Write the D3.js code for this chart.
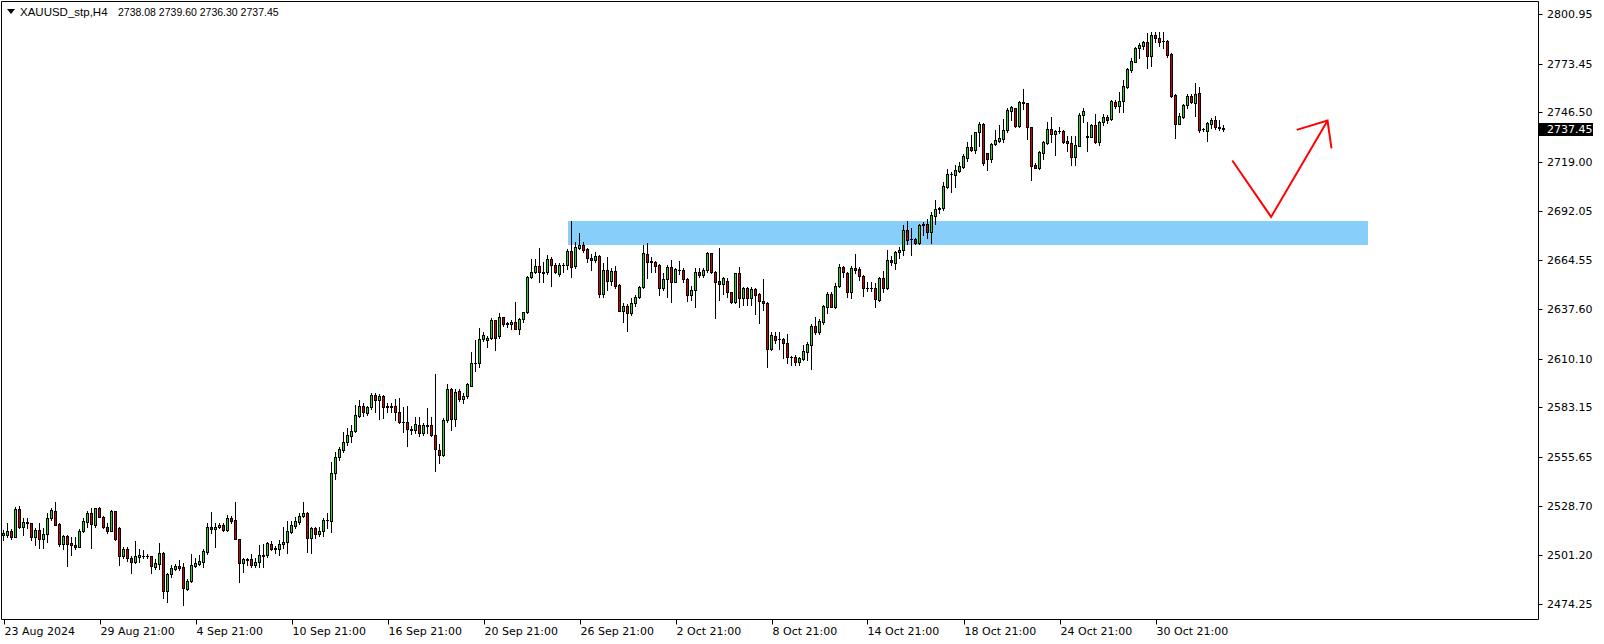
<!DOCTYPE html>
<html><head><meta charset="utf-8">
<script src="https://cdn.jsdelivr.net/npm/d3@7"></script>
<style>body{margin:0;background:#fff}svg{display:block}</style>
</head><body>
<svg id="c" width="1604" height="644"></svg>
<script>
const opens = [
2512.3,2512.3,2514.5,2511.5,2526.9,2517.1,2519.5,2518.9,2511.2,2515.1,
2510.4,2512.8,2521.7,2525.6,2518.6,2507.3,2511.7,2508.0,2506.8,2505.6,
2514.7,2519.7,2524.7,2517.8,2527.2,2522.3,2517.1,2514.9,2525.8,2516.2,
2501.0,2504.7,2499.6,2497.7,2500.5,2501.0,2501.0,2500.8,2494.9,2496.2,
2502.5,2481.6,2490.7,2493.8,2495.1,2494.7,2482.8,2486.8,2495.5,2496.2,
2497.7,2503.1,2516.7,2515.6,2516.7,2518.2,2515.2,2521.9,2520.6,2510.4,
2496.8,2498.4,2499.2,2495.8,2497.7,2501.0,2501.4,2507.3,2505.1,2504.9,
2507.3,2508.4,2514.3,2517.3,2519.8,2522.8,2524.6,2511.0,2516.1,2512.8,
2514.9,2520.8,2520.0,2546.6,2555.5,2559.4,2564.1,2567.5,2570.0,2578.4,
2583.7,2579.8,2583.2,2589.8,2587.2,2589.4,2583.5,2583.7,2583.7,2580.4,
2575.0,2574.8,2571.3,2570.6,2573.2,2568.8,2573.2,2573.2,2567.6,2559.3,
2556.6,2575.9,2593.3,2576.5,2592.2,2587.6,2589.2,2595.2,2607.7,2607.5,
2620.8,2620.3,2621.4,2631.3,2622.8,2633.0,2629.7,2629.5,2630.4,2626.4,
2631.9,2635.8,2655.3,2657.9,2661.6,2657.9,2657.9,2665.3,2662.0,2657.2,
2662.0,2662.0,2669.7,2661.6,2671.6,2673.0,2670.8,2665.8,2664.6,2667.0,
2646.1,2659.2,2653.3,2658.5,2650.9,2636.7,2639.4,2635.2,2640.7,2644.2,
2649.6,2667.9,2664.2,2663.4,2662.0,2649.1,2654.0,2660.9,2652.7,2659.0,
2659.0,2654.0,2645.4,2648.1,2657.9,2656.4,2659.0,2668.4,2658.3,2653.1,
2651.3,2653.0,2646.8,2641.7,2657.4,2643.5,2649.0,2643.5,2648.5,2645.7,
2642.2,2640.7,2615.6,2622.7,2620.8,2620.8,2619.0,2610.8,2610.8,2608.1,
2609.9,2614.0,2617.9,2628.0,2624.7,2630.2,2638.9,2645.9,2638.9,2650.2,
2660.7,2657.5,2646.8,2660.1,2659.6,2656.1,2649.4,2649.2,2649.4,2642.8,
2654.6,2649.4,2664.7,2662.9,2669.0,2670.1,2681.2,2676.2,2676.2,2674.0,
2684.1,2684.5,2680.1,2689.3,2693.0,2693.3,2705.3,2712.4,2711.8,2714.2,
2716.4,2721.0,2727.5,2725.6,2735.4,2740.2,2723.8,2720.5,2729.0,2730.4,
2731.9,2736.7,2747.4,2748.9,2739.1,2752.2,2751.7,2738.2,2717.3,2715.7,
2724.2,2729.7,2737.1,2734.3,2736.0,2736.3,2730.6,2729.3,2721.9,2728.0,
2744.8,2733.6,2733.0,2739.5,2729.9,2741.3,2744.1,2742.6,2752.4,2750.2,
2752.8,2760.7,2770.1,2774.6,2781.9,2783.4,2785.3,2777.9,2789.3,2787.8,
2786.0,2786.0,2778.6,2756.1,2740.2,2744.1,2750.6,2755.7,2751.7,2757.0,
2737.1,2736.2,2740.0,2742.2,2738.5,2738.08];
const highs = [
2515.2,2518.9,2516.0,2527.8,2528.7,2521.7,2521.7,2519.3,2516.2,2518.9,
2516.2,2524.8,2527.2,2530.6,2518.9,2512.5,2512.5,2511.5,2511.5,2515.6,
2521.7,2525.9,2527.2,2527.2,2528.2,2523.0,2518.9,2526.3,2525.9,2517.1,
2506.0,2506.0,2500.8,2509.2,2504.5,2504.2,2501.8,2500.8,2499.0,2508.2,
2503.2,2491.2,2495.9,2496.4,2498.6,2497.2,2487.9,2502.0,2499.6,2501.4,
2504.5,2518.9,2525.0,2518.9,2518.9,2519.3,2523.5,2523.0,2530.6,2510.4,
2499.6,2499.9,2501.7,2499.5,2506.9,2507.3,2508.4,2509.1,2506.2,2509.5,
2517.1,2520.2,2520.2,2522.6,2524.5,2530.5,2525.4,2517.1,2517.1,2517.1,
2521.7,2524.5,2552.7,2558.6,2561.4,2569.7,2571.5,2573.4,2584.5,2587.2,
2585.4,2583.9,2591.3,2590.9,2590.4,2590.0,2585.4,2585.7,2587.6,2588.1,
2583.2,2583.9,2572.8,2578.0,2578.0,2574.3,2582.6,2577.6,2601.6,2562.8,
2577.1,2596.1,2593.7,2593.1,2593.1,2590.9,2596.8,2614.0,2620.4,2626.9,
2624.9,2622.8,2632.4,2631.5,2635.6,2633.4,2630.2,2631.5,2641.3,2632.8,
2636.1,2656.1,2665.3,2665.3,2671.2,2663.8,2667.5,2666.6,2663.3,2663.3,
2662.9,2670.8,2686.3,2674.5,2679.5,2674.9,2671.6,2667.9,2669.4,2667.5,
2663.0,2666.6,2660.1,2661.6,2651.3,2640.7,2640.2,2643.5,2645.4,2650.5,
2673.0,2674.0,2666.6,2664.2,2662.3,2657.4,2662.0,2664.7,2660.1,2664.2,
2660.1,2654.9,2650.5,2660.1,2660.5,2660.5,2669.4,2668.4,2658.6,2671.2,
2655.5,2654.6,2647.2,2657.7,2660.7,2649.6,2649.6,2650.0,2649.4,2646.6,
2654.0,2641.5,2624.9,2625.0,2625.0,2621.4,2623.8,2611.6,2612.0,2611.2,
2617.7,2619.5,2629.3,2633.4,2631.9,2639.8,2647.2,2647.2,2651.8,2662.3,
2661.4,2658.0,2661.6,2667.9,2661.0,2656.4,2652.4,2652.4,2651.8,2655.5,
2658.6,2670.1,2667.1,2669.7,2672.1,2684.1,2686.3,2682.3,2676.7,2684.5,
2686.0,2687.3,2691.1,2697.9,2694.3,2708.1,2715.1,2713.7,2717.3,2718.8,
2723.6,2730.2,2733.9,2735.8,2741.3,2740.4,2724.2,2729.3,2736.7,2739.5,
2742.6,2748.7,2750.0,2749.1,2753.0,2759.2,2751.7,2738.6,2718.2,2724.9,
2730.8,2741.3,2744.1,2736.7,2738.6,2736.7,2733.4,2733.4,2733.4,2746.3,
2748.7,2741.3,2739.8,2745.4,2741.7,2745.4,2745.0,2753.3,2753.3,2757.9,
2764.4,2770.9,2776.4,2782.9,2784.7,2786.0,2790.2,2790.8,2791.2,2790.8,
2791.2,2786.6,2779.2,2756.5,2746.0,2750.9,2756.5,2756.5,2762.6,2760.7,
2738.0,2741.3,2743.5,2744.5,2742.5,2739.60];
const lows = [
2509.7,2511.2,2510.1,2511.5,2516.2,2512.5,2516.2,2509.7,2506.9,2505.1,
2505.1,2508.8,2520.8,2518.2,2506.4,2504.5,2495.3,2501.4,2504.5,2505.6,
2514.3,2517.1,2505.1,2517.1,2522.3,2516.2,2513.4,2514.9,2509.7,2495.9,
2499.6,2498.3,2491.6,2497.2,2497.7,2499.6,2499.9,2491.2,2493.8,2493.8,
2477.4,2475.2,2489.0,2493.1,2493.1,2473.5,2482.0,2486.4,2494.6,2495.9,
2494.6,2502.0,2513.4,2505.6,2516.2,2514.9,2514.7,2518.9,2510.4,2486.6,
2492.2,2495.8,2494.9,2494.9,2494.9,2494.9,2500.5,2504.2,2502.3,2501.4,
2505.1,2502.3,2513.4,2516.1,2518.7,2522.6,2503.2,2502.3,2511.0,2512.1,
2512.1,2516.1,2514.3,2543.3,2554.0,2558.6,2562.3,2564.1,2569.7,2577.8,
2578.5,2578.9,2582.4,2580.8,2576.7,2577.4,2580.8,2580.4,2576.1,2574.3,
2569.7,2561.9,2568.2,2568.8,2567.3,2567.8,2568.8,2567.3,2548.1,2552.1,
2556.2,2575.2,2570.6,2572.8,2586.8,2585.7,2588.5,2595.0,2603.5,2605.7,
2620.1,2616.7,2621.0,2614.9,2621.4,2628.4,2627.8,2626.5,2626.4,2623.8,
2630.2,2635.2,2654.6,2657.4,2652.7,2652.7,2656.8,2650.5,2657.4,2656.1,
2658.3,2659.8,2655.5,2660.5,2670.8,2669.4,2663.8,2659.2,2663.8,2644.4,
2644.4,2648.1,2650.9,2649.1,2636.5,2630.2,2625.4,2634.3,2639.4,2643.5,
2649.1,2654.6,2658.3,2658.3,2645.4,2648.1,2644.4,2641.7,2652.4,2656.8,
2652.7,2642.0,2642.6,2638.9,2655.5,2655.3,2658.3,2657.4,2632.8,2642.6,
2645.7,2644.4,2640.7,2641.1,2638.9,2639.8,2639.8,2639.8,2634.7,2629.7,
2637.0,2605.7,2614.9,2618.6,2615.6,2610.3,2607.5,2606.6,2606.6,2606.6,
2609.4,2609.4,2604.2,2623.8,2623.8,2629.3,2635.6,2638.5,2638.0,2649.6,
2655.5,2644.4,2643.9,2657.7,2653.7,2645.0,2647.6,2647.6,2638.9,2642.2,
2646.8,2648.7,2662.0,2659.7,2666.0,2667.5,2673.4,2667.5,2673.4,2673.8,
2678.6,2677.1,2674.0,2684.9,2690.6,2692.4,2704.4,2702.6,2705.3,2713.7,
2715.9,2719.6,2725.3,2724.2,2727.9,2717.3,2714.6,2719.2,2728.4,2730.1,
2730.2,2735.8,2742.3,2738.6,2738.6,2748.2,2731.5,2709.0,2715.5,2715.1,
2720.5,2729.0,2730.2,2722.9,2734.9,2729.7,2725.3,2717.3,2717.3,2727.9,
2741.2,2725.3,2733.0,2729.3,2728.4,2739.5,2740.4,2742.2,2749.1,2746.9,
2746.9,2760.2,2769.0,2774.2,2776.4,2781.6,2771.2,2772.3,2785.3,2783.4,
2782.3,2777.3,2755.2,2732.1,2739.8,2743.5,2748.7,2751.5,2744.6,2735.8,
2736.2,2730.6,2738.0,2737.0,2736.8,2736.30];
const closes = [
2513.8,2514.7,2511.5,2526.9,2517.1,2519.5,2519.3,2511.2,2515.1,2510.4,
2512.8,2521.7,2526.1,2518.2,2507.3,2511.7,2507.7,2506.8,2506.0,2514.7,
2520.0,2524.5,2518.4,2527.2,2522.3,2517.1,2514.9,2525.6,2510.4,2501.0,
2504.5,2499.6,2497.7,2500.7,2501.2,2501.0,2500.8,2495.1,2496.8,2502.5,
2481.3,2490.7,2494.0,2495.3,2494.2,2482.9,2487.0,2495.7,2497.0,2498.1,
2503.6,2516.7,2516.0,2516.7,2518.2,2515.1,2521.9,2520.4,2510.4,2496.8,
2499.0,2499.2,2495.8,2497.7,2501.2,2501.6,2507.9,2504.7,2504.9,2507.3,
2508.4,2514.7,2518.0,2520.2,2522.8,2524.6,2511.0,2516.1,2512.8,2514.7,
2520.8,2520.6,2546.6,2555.5,2559.9,2564.1,2567.8,2570.0,2578.7,2583.7,
2580.4,2583.2,2589.8,2587.2,2589.2,2583.5,2583.7,2583.5,2580.4,2575.0,
2575.2,2571.0,2570.6,2573.7,2568.8,2573.2,2573.0,2567.6,2560.3,2556.6,
2575.9,2593.3,2576.5,2591.6,2587.6,2589.2,2596.1,2607.7,2607.5,2621.0,
2623.0,2621.7,2631.3,2621.4,2633.0,2629.1,2629.1,2630.6,2626.4,2631.9,
2635.8,2655.3,2657.9,2661.6,2657.9,2657.7,2665.3,2661.8,2657.9,2662.0,
2662.2,2669.7,2661.0,2671.9,2673.0,2670.5,2665.7,2664.6,2667.0,2646.1,
2659.0,2653.3,2658.5,2650.5,2636.7,2639.3,2635.2,2640.7,2644.2,2650.0,
2668.4,2663.4,2663.4,2661.6,2649.1,2654.4,2660.9,2652.7,2659.7,2659.0,
2654.0,2645.4,2648.1,2657.9,2656.4,2659.4,2668.4,2658.3,2652.7,2651.3,
2654.6,2647.2,2641.3,2657.4,2643.5,2649.0,2643.5,2648.5,2645.5,2642.2,
2640.7,2615.6,2623.0,2620.4,2620.8,2619.0,2610.8,2610.8,2608.4,2610.3,
2614.5,2618.2,2628.0,2624.7,2630.8,2639.1,2645.9,2638.9,2650.2,2660.7,
2657.9,2646.8,2660.1,2659.2,2656.1,2649.4,2649.4,2649.0,2643.0,2654.6,
2649.4,2664.7,2663.4,2669.0,2670.3,2681.2,2676.0,2676.2,2674.1,2684.1,
2684.5,2680.4,2689.6,2693.0,2693.3,2705.7,2712.4,2712.2,2714.6,2717.0,
2722.1,2727.5,2725.6,2735.4,2740.2,2718.2,2720.5,2729.0,2731.2,2732.3,
2736.7,2747.8,2749.3,2739.1,2752.2,2751.5,2738.2,2717.0,2715.7,2724.5,
2730.2,2737.1,2734.5,2736.0,2736.3,2730.2,2729.3,2721.9,2728.4,2745.0,
2747.1,2733.0,2739.5,2729.9,2741.3,2744.1,2742.2,2752.8,2750.2,2753.0,
2761.1,2770.5,2774.9,2782.3,2783.8,2785.3,2777.9,2789.3,2787.5,2785.3,
2786.0,2778.2,2755.7,2740.2,2744.6,2750.6,2755.7,2752.0,2756.8,2736.7,
2737.1,2740.4,2742.2,2738.5,2738.1,2737.45];

const dateLabels = ["23 Aug 2024","29 Aug 21:00","4 Sep 21:00","10 Sep 21:00","16 Sep 21:00","20 Sep 21:00","26 Sep 21:00","2 Oct 21:00","8 Oct 21:00","14 Oct 21:00","18 Oct 21:00","24 Oct 21:00","30 Oct 21:00"];
const dateBars = [0,24,48,72,96,120,144,168,192,216,240,264,288];
const priceLabels = ["2800.95","2773.45","2746.50","2719.00","2692.05","2664.55","2637.60","2610.10","2583.15","2555.65","2528.70","2501.20","2474.25"];
const symbolTitle = "XAUUSD_stp,H4";
const lastPrice = "2737.45";
const zoneBars = [141.0, 340.9];
const zonePrices = [2673.0, 2686.3];
const arrowBars = [307.2, 316.9, 331.0];
const arrowPrices = [2719.8, 2688.6, 2741.9];
const headBars = [323.3, 331.0, 332.0];
const headPrices = [2736.8, 2741.9, 2726.6];

const W = 1604, H = 644;
const svg = d3.select("#c");
svg.append("rect").attr("width", W).attr("height", H).attr("fill", "#fff");

const x = d3.scaleLinear().domain([0, 305]).range([3.5, 1223.5]);
const y = d3.scaleLinear().domain([2474.25, 2800.95]).range([604, 14]);
const axisX = 1538.5, axisY = 619.5;

// zone
svg.append("rect")
  .attr("x", Math.round(x(zoneBars[0]))).attr("y", Math.round(y(zonePrices[1])))
  .attr("width", Math.round(x(zoneBars[1]) - x(zoneBars[0])))
  .attr("height", Math.round(y(zonePrices[0]) - y(zonePrices[1])))
  .attr("fill", "#87cefa");

// candles
const bars = d3.range(opens.length).map(i => ({i, o: opens[i], h: highs[i], l: lows[i], c: closes[i]}));
const g = svg.append("g");
bars.forEach(d => {
  const cx = x(d.i);
  const yh = Math.round(y(d.h)), yl = Math.round(y(d.l));
  g.append("line").attr("x1", cx).attr("x2", cx).attr("y1", yh).attr("y2", yl + 1)
    .attr("stroke", "#000").attr("stroke-width", 1);
  const yo = Math.round(y(d.o)), yc = Math.round(y(d.c));
  const top = Math.min(yo, yc), bot = Math.max(yo, yc);
  if (bot - top < 1) {
    g.append("line").attr("x1", cx - 1.5).attr("x2", cx + 1.5).attr("y1", top + 0.5).attr("y2", top + 0.5)
      .attr("stroke", "#000").attr("stroke-width", 1);
  } else {
    g.append("rect").attr("x", cx - 1).attr("y", top + 0.5).attr("width", 2).attr("height", bot - top)
      .attr("fill", d.c >= d.o ? "#1fd51f" : "#d40000").attr("stroke", "#000").attr("stroke-width", 1);
  }
});

// arrow
const line = d3.line().x(p => x(p[0])).y(p => y(p[1]));
svg.append("path").attr("d", line(arrowBars.map((b, k) => [b, arrowPrices[k]])))
  .attr("fill", "none").attr("stroke", "#ff0000").attr("stroke-width", 2);
svg.append("path").attr("d", line(headBars.map((b, k) => [b, headPrices[k]])))
  .attr("fill", "none").attr("stroke", "#ff0000").attr("stroke-width", 2);

// frame
svg.append("path").attr("d", `M1.5,1.5H${axisX}V${axisY}H1.5Z`).attr("fill", "none").attr("stroke", "#000");

// price axis
const font = "DejaVu Sans, Verdana, sans-serif";
priceLabels.forEach(t => {
  const yy = Math.round(y(+t)) + 0.5;
  svg.append("line").attr("x1", axisX).attr("x2", axisX + 4).attr("y1", yy).attr("y2", yy).attr("stroke", "#000");
  svg.append("text").attr("x", 1547).attr("y", yy).attr("dy", "0.35em").text(t)
    .attr("font-family", font).attr("font-size", 11).attr("fill", "#000");
});
// last price label
const ly = Math.round(y(+lastPrice));
svg.append("rect").attr("x", axisX + 0.5).attr("y", ly - 6).attr("width", 54).attr("height", 13).attr("fill", "#000");
svg.append("text").attr("x", 1547).attr("y", ly + 0.5).attr("dy", "0.35em").text(lastPrice)
  .attr("font-family", font).attr("font-size", 11).attr("fill", "#fff");

// time axis
dateLabels.forEach((t, k) => {
  const xx = Math.round(x(dateBars[k])) + 0.5;
  svg.append("line").attr("x1", xx).attr("x2", xx).attr("y1", axisY).attr("y2", axisY + 5).attr("stroke", "#000");
  svg.append("text").attr("x", xx).attr("y", 635).text(t)
    .attr("font-family", font).attr("font-size", 11).attr("fill", "#000");
});

// header
svg.append("path").attr("d", "M7,9H15L11,14Z").attr("fill", "#000");
svg.append("text").attr("x", 20).attr("y", 16).text(symbolTitle)
  .attr("font-family", "Liberation Sans, Arial, sans-serif").attr("font-size", 11.5).attr("fill", "#000");
svg.append("text").attr("x", 118).attr("y", 16)
  .text(`${opens[305].toFixed(2)} ${highs[305].toFixed(2)} ${lows[305].toFixed(2)} ${closes[305].toFixed(2)}`)
  .attr("font-family", "Liberation Sans, Arial, sans-serif").attr("font-size", 10.5).attr("fill", "#000");
</script>
</body></html>
